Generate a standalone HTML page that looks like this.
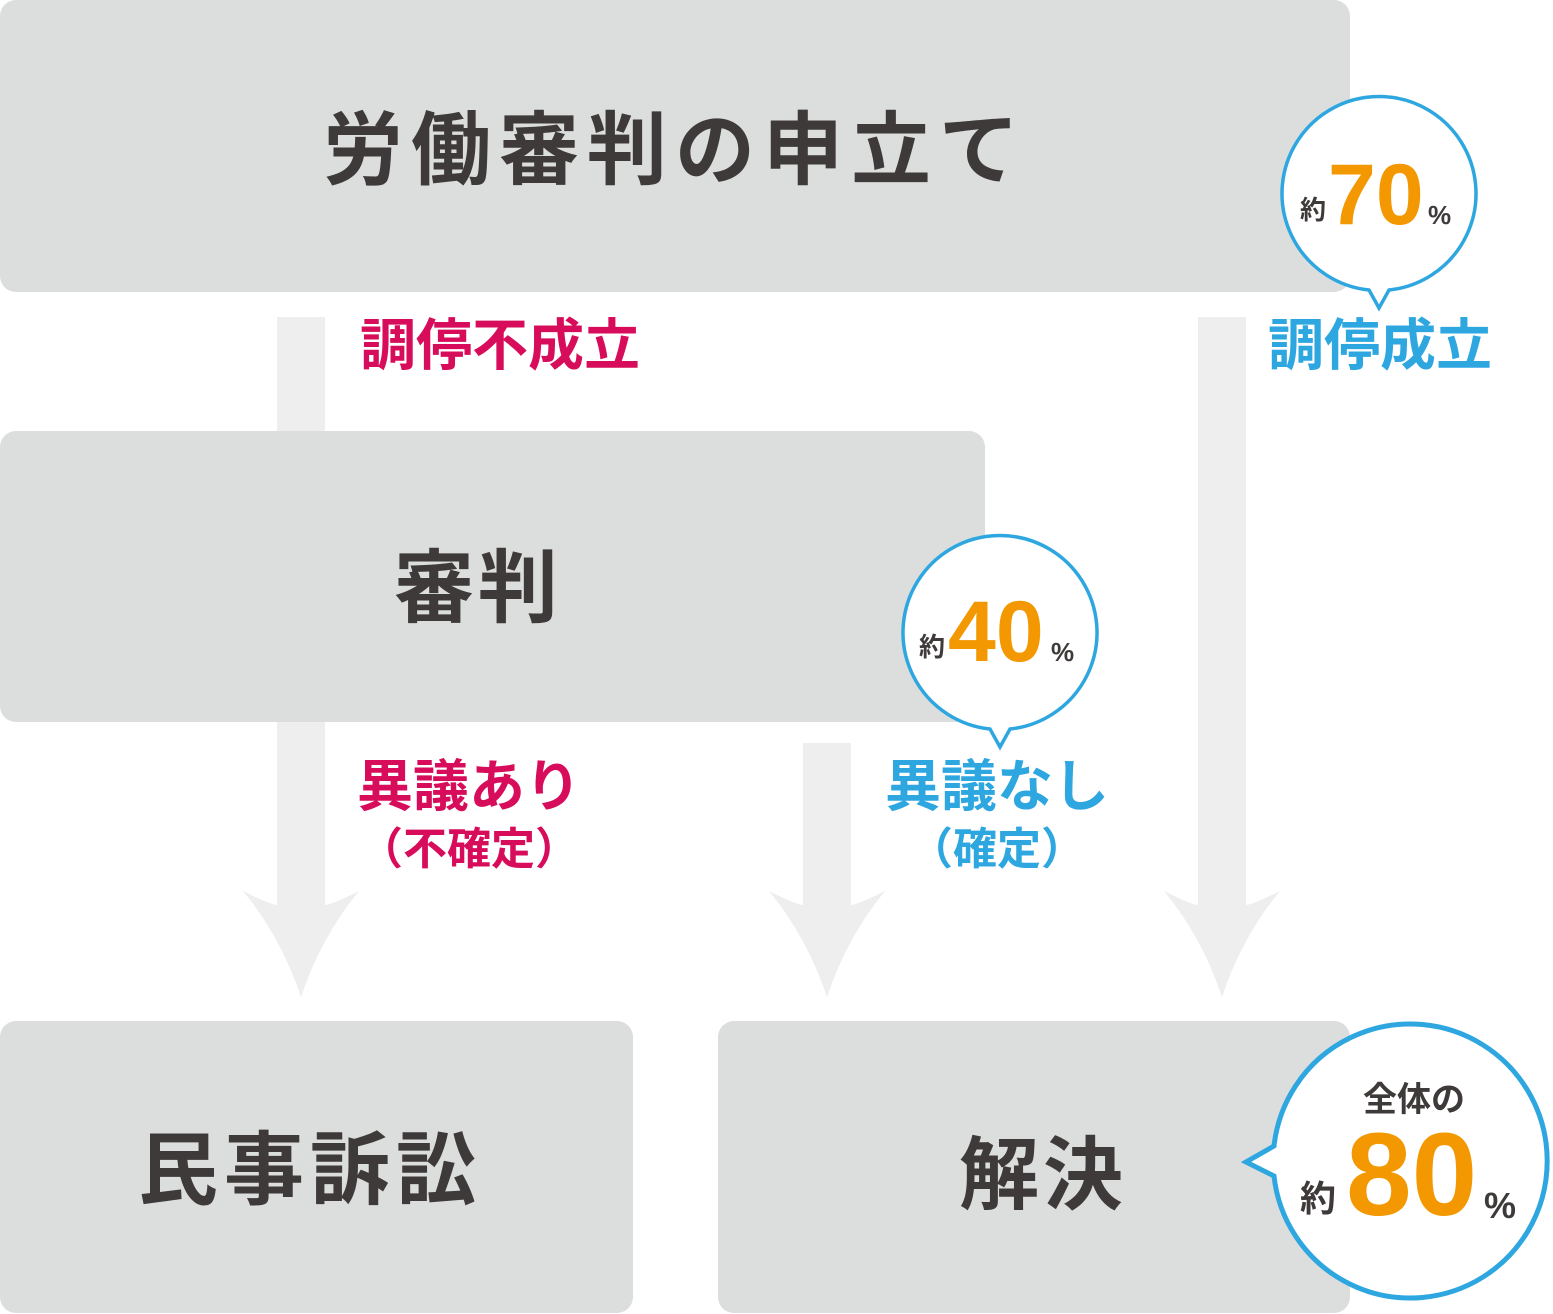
<!DOCTYPE html>
<html><head><meta charset="utf-8"><style>
html,body{margin:0;padding:0;background:#fff;}
svg{display:block;}
text{font-family:"Liberation Sans","Noto Sans CJK JP",sans-serif;font-weight:bold;}
</style></head><body>
<svg width="1553" height="1314" viewBox="0 0 1553 1314" xmlns="http://www.w3.org/2000/svg">
<defs>
<path id="ah" d="M-58,-106 Q-30,-92 -24,-92 L24,-92 Q30,-92 58,-106 Q20,-60 0,0 Q-20,-60 -58,-106 Z"/>
</defs>
<g fill="#eeeeee">
<rect x="277" y="317" width="48" height="600"/>
<use href="#ah" x="301" y="997"/>
<rect x="803" y="743" width="48" height="170"/>
<use href="#ah" x="827" y="997"/>
<rect x="1198" y="317" width="48" height="600"/>
<use href="#ah" x="1222" y="997"/>
</g>
<g fill="#dcdedd">
<rect x="0" y="0" width="1350" height="292" rx="16"/>
<rect x="0" y="431" width="985" height="291" rx="16"/>
<rect x="0" y="1021" width="633" height="292" rx="16"/>
<rect x="718" y="1021" width="632" height="292" rx="16"/>
</g>
<g fill="#3e3a39" text-anchor="middle">
<text x="675" y="178" font-size="80" letter-spacing="8">労働審判の申立て</text>
<text x="478" y="616" font-size="80" letter-spacing="4">審判</text>
<text x="310" y="1198" font-size="80" letter-spacing="6">民事訴訟</text>
<text x="1043" y="1203" font-size="80" letter-spacing="4">解決</text>
</g>
<text x="500" y="365" font-size="56" fill="#d70c5a" text-anchor="middle">調停不成立</text>
<text x="1380" y="365" font-size="56" fill="#2ea7e0" text-anchor="middle">調停成立</text>
<text x="469" y="806" font-size="56" fill="#d70c5a" text-anchor="middle">異議あり</text>
<text x="469" y="864" font-size="44" fill="#d70c5a" text-anchor="middle">（不確定）</text>
<text x="997" y="806" font-size="56" fill="#2ea7e0" text-anchor="middle">異議なし</text>
<text x="997" y="864" font-size="44" fill="#2ea7e0" text-anchor="middle">（確定）</text>
<g fill="#fff" stroke="#2ea7e0">
<path stroke-width="3.5" d="M1369,290 A97,97 0 1 1 1389,290 L1379,308 Z"/>
<path stroke-width="3.5" d="M990,729 A97,97 0 1 1 1010,729 L1000,747 Z"/>
<path stroke-width="5" d="M1274,1146 A137,137 0 1 1 1274,1176 L1246,1162 Z"/>
</g>
<g fill="#3e3a39" font-size="26"><text x="1300" y="219">約</text><text x="919" y="656">約</text></g>
<g fill="#3e3a39" font-size="26"><text x="1428" y="224">%</text><text x="1051" y="661">%</text></g>
<g fill="#f39800" font-size="86"><text x="1328" y="224">70</text><text x="948" y="661">40</text></g>
<text x="1414" y="1111" font-size="34" fill="#3e3a39" text-anchor="middle">全体の</text>
<text x="1300" y="1211" font-size="36" fill="#3e3a39">約</text>
<text x="1346" y="1215" font-size="118" fill="#f39800">80</text>
<text x="1484" y="1218" font-size="36" fill="#3e3a39">%</text>
</svg>
</body></html>
